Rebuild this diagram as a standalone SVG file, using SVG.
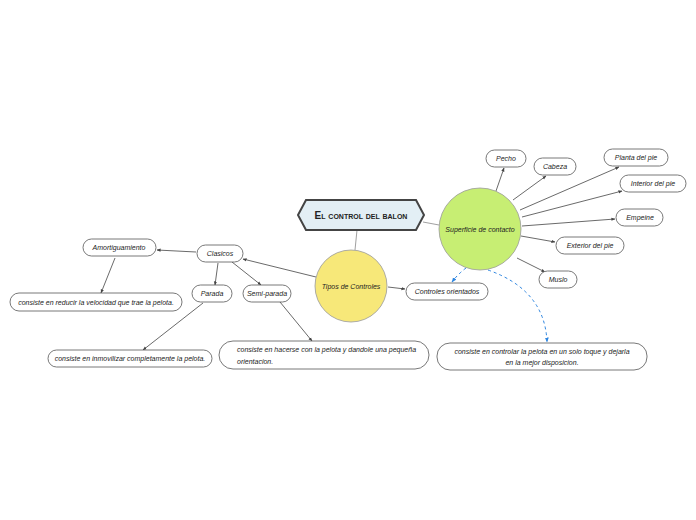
<svg xmlns="http://www.w3.org/2000/svg" width="696" height="520" viewBox="0 0 696 520">
<defs>
<marker id="ar" viewBox="0 0 10 10" refX="9" refY="5" markerWidth="5" markerHeight="5" orient="auto"><path d="M0,1 L10,5 L0,9 z" fill="#444"/></marker>
<marker id="ab" viewBox="0 0 10 10" refX="9" refY="5" markerWidth="5" markerHeight="5" orient="auto"><path d="M0,1 L10,5 L0,9 z" fill="#2f86e0"/></marker>
<style>
.n{fill:#fff;stroke:#555;stroke-width:0.8}
.t{font-family:"Liberation Sans Narrow","Liberation Sans",sans-serif;font-style:italic;font-size:7px;fill:#222;text-anchor:middle}
.tl{text-anchor:start}
.c{stroke:#444;stroke-width:0.8;fill:none;marker-end:url(#ar)}
.p{stroke:#888;stroke-width:0.8;fill:none}
.d{stroke:#2f86e0;stroke-width:1;fill:none;stroke-dasharray:3,3;marker-end:url(#ab)}
</style>
</defs>
<rect width="696" height="520" fill="#fff"/>
<g id="connectors">
<line class="p" x1="357" y1="230" x2="355" y2="250"/>
<line class="p" x1="423" y1="222" x2="439" y2="225"/>
<line class="c" x1="496" y1="191" x2="504" y2="168"/>
<line class="c" x1="513" y1="200" x2="546" y2="176"/>
<line class="c" x1="520" y1="210" x2="619" y2="167"/>
<line class="c" x1="522" y1="217" x2="622" y2="191"/>
<line class="c" x1="522" y1="226" x2="615" y2="219"/>
<line class="c" x1="521" y1="236" x2="555" y2="242"/>
<line class="c" x1="517" y1="258" x2="545" y2="272"/>
<path class="d" d="M466,268 Q458,274 452,282"/>
<path class="d" d="M488,270 Q545,290 547,342"/>
<line class="c" x1="388" y1="287" x2="405" y2="289"/>
<line class="c" x1="316" y1="277" x2="243" y2="259"/>
<line class="c" x1="196" y1="252" x2="157" y2="250"/>
<line class="c" x1="218" y1="263" x2="215" y2="285"/>
<line class="c" x1="232" y1="262" x2="261" y2="285"/>
<line class="c" x1="115" y1="258" x2="101" y2="293"/>
<line class="c" x1="203" y1="303" x2="143" y2="350"/>
<line class="c" x1="280" y1="302" x2="312" y2="341"/>
</g>
<g id="title">
<polygon points="298,215 306,200 416,200 424,215 416,230 306,230" fill="#e3eff5" stroke="#444" stroke-width="2"/>
<text x="361" y="219" font-family="Liberation Sans, sans-serif" font-size="10" font-weight="bold" font-variant="small-caps" text-anchor="middle" fill="#222">El control del balon</text>
</g>
<g id="tipos">
<circle cx="351" cy="286" r="36" fill="#f7e879" stroke="#999" stroke-width="0.8"/>
<text class="t" x="351" y="289">Tipos de Controles</text>
</g>
<g id="superficie">
<circle cx="480" cy="229" r="41" fill="#c7ee73" stroke="#999" stroke-width="0.8"/>
<text class="t" x="480" y="232">Superficie de contacto</text>
</g>
<g id="pecho"><rect class="n" x="486" y="150" width="40" height="17" rx="8.5"/><text class="t" x="506" y="161">Pecho</text></g>
<g id="cabeza"><rect class="n" x="534" y="158" width="42" height="17" rx="8.5"/><text class="t" x="555" y="169">Cabeza</text></g>
<g id="planta"><rect class="n" x="604" y="149" width="64" height="17" rx="8.5"/><text class="t" x="636" y="160">Planta del pie</text></g>
<g id="interior"><rect class="n" x="620" y="175" width="66" height="17" rx="8.5"/><text class="t" x="653" y="186">Interior del pie</text></g>
<g id="empeine"><rect class="n" x="616" y="209" width="47" height="17" rx="8.5"/><text class="t" x="640" y="220">Empeine</text></g>
<g id="exterior"><rect class="n" x="556" y="237" width="68" height="17" rx="8.5"/><text class="t" x="590" y="248">Exterior del pie</text></g>
<g id="muslo"><rect class="n" x="539" y="271" width="38" height="17" rx="8.5"/><text class="t" x="558" y="282">Muslo</text></g>
<g id="orientados"><rect class="n" x="406" y="283" width="82" height="17" rx="8.5"/><text class="t" x="447" y="294">Controles orientados</text></g>
<g id="def-orientados"><rect class="n" x="437" y="343" width="210" height="27" rx="13"/><text class="t" x="542" y="354">consiste en controlar la pelota en un solo toque y dejarla</text><text class="t" x="542" y="365">en la mejor disposicion.</text></g>
<g id="clasicos"><rect class="n" x="197" y="245" width="46" height="17" rx="8.5"/><text class="t" x="220" y="256">Clasicos</text></g>
<g id="amortiguamiento"><rect class="n" x="83" y="239" width="73" height="17" rx="8.5"/><text class="t" x="119" y="250">Amortiguamiento</text></g>
<g id="parada"><rect class="n" x="192" y="285" width="40" height="17" rx="8.5"/><text class="t" x="212" y="296">Parada</text></g>
<g id="semiparada"><rect class="n" x="243" y="285" width="48" height="17" rx="8.5"/><text class="t" x="267" y="296">Semi-parada</text></g>
<g id="def-amort"><rect class="n" x="10" y="293" width="172" height="18" rx="9"/><text class="t" x="96" y="305">consiste en reducir la velocidad que trae la pelota.</text></g>
<g id="def-parada"><rect class="n" x="48" y="350" width="164" height="17" rx="8.5"/><text class="t" x="130" y="361">consiste en inmovilizar completamente la pelota.</text></g>
<g id="def-semi"><rect class="n" x="219" y="341" width="210" height="28" rx="14"/><text class="t tl" x="237" y="352">consiste en hacerse con la pelota y dandole una pequeña</text><text class="t tl" x="237" y="364">orientacion.</text></g>
</svg>
